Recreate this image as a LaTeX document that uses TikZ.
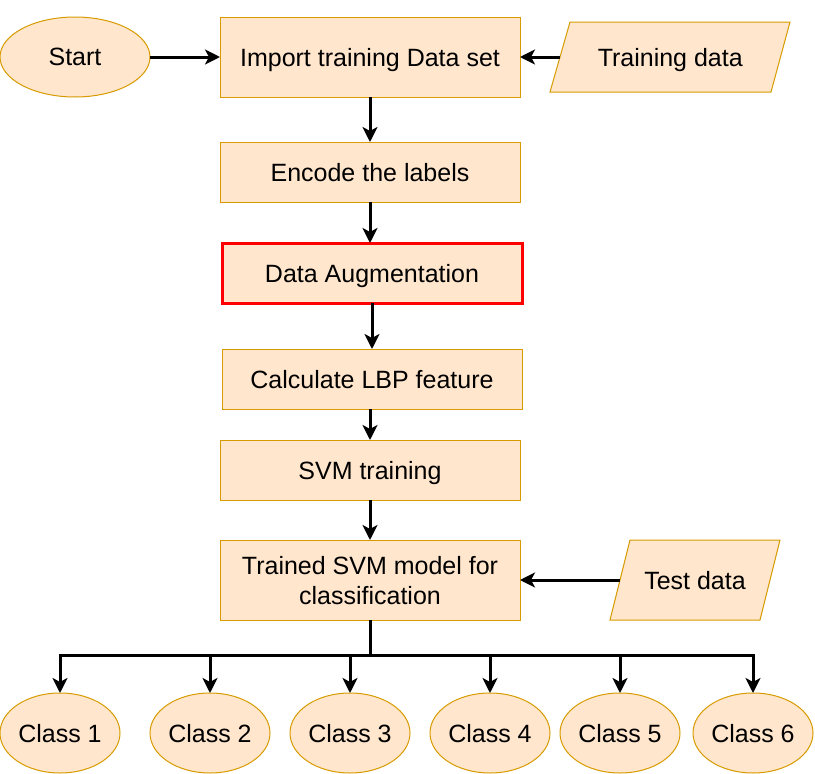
\documentclass[tikz,border=0pt]{standalone}
\usepackage{fontspec}
\setmainfont{Liberation Sans}
\usetikzlibrary{arrows.meta,shapes.geometric}
\definecolor{boxfill}{HTML}{FFE6CC}
\definecolor{boxline}{HTML}{D79B00}
\tikzset{
  txt/.style={font=\fontsize{25}{30}\selectfont, text depth=0pt},
  box/.style={txt, draw=boxline, fill=boxfill, line width=1pt, minimum width=300pt, minimum height=60pt, inner sep=0pt, outer sep=0pt, align=center},
  oval/.style={txt, ellipse, draw=boxline, fill=boxfill, line width=1pt, minimum width=120pt, minimum height=80pt, inner sep=0pt, outer sep=0pt},
  para/.style={draw=boxline, fill=boxfill, line width=1pt},
  lbl/.style={txt, inner sep=0pt, outer sep=0pt, minimum height=70pt},
  conn/.style={line width=3pt, -{Stealth[length=15pt,width=15pt,inset=4pt]}},
  wire/.style={line width=3pt}
}
\begin{document}
\begin{tikzpicture}[x=1pt,y=-1pt]
\useasboundingbox (0,0) rectangle (815,774);
% nodes
\node[oval, minimum width=150pt] (start) at (75,57) {Start};
\node[box, minimum height=80pt] (import) at (370,57) {Import training Data set};
\draw[para] (550,92) -- (570,22) -- (790,22) -- (771,92) -- cycle;
\node[lbl, minimum width=220.5pt] (train) at (670.25,57) {Training data};
\node[box] (encode) at (370,172) {Encode the labels};
\node[box, draw=red, line width=3pt, minimum width=300pt] (aug) at (372,273) {Data Augmentation};
\node[box] (lbp) at (372,379) {Calculate LBP feature};
\node[box] (svm) at (370,470) {SVM training};
\node[box, minimum height=80pt] (trained) at (370,580) {Trained SVM model for\\classification};
\draw[para] (610,620) -- (630,540) -- (780,540) -- (760,620) -- cycle;
\node[lbl, minimum width=150pt, minimum height=80pt] (test) at (695,580) {Test data};
\node[oval] (c1) at (60,733) {Class 1};
\node[oval] (c2) at (210,733) {Class 2};
\node[oval] (c3) at (350,733) {Class 3};
\node[oval] (c4) at (490,733) {Class 4};
\node[oval] (c5) at (620,733) {Class 5};
\node[oval] (c6) at (753,733) {Class 6};
% connectors
\draw[conn] (start) -- (import);
\draw[conn] (train.west) -- (import.east);
\draw[conn] (import) -- (encode);
\draw[conn] (encode.south) -- (encode.south |- aug.north);
\draw[conn] (aug) -- (lbp);
\draw[conn] (lbp.south -| svm.north) -- (svm.north);
\draw[conn] (svm) -- (trained);
\draw[conn] (test.west) -- (trained.east);
\coordinate (bus) at (370,655);
\draw[wire] (trained.south) -- (bus);
\draw[wire, line cap=rect] (c1.north |- bus) -- (c6.north |- bus);
\foreach \c in {c1,c2,c3,c4,c5,c6}{
  \draw[conn] (\c.north |- bus) -- (\c.north);
}
\end{tikzpicture}
\end{document}
